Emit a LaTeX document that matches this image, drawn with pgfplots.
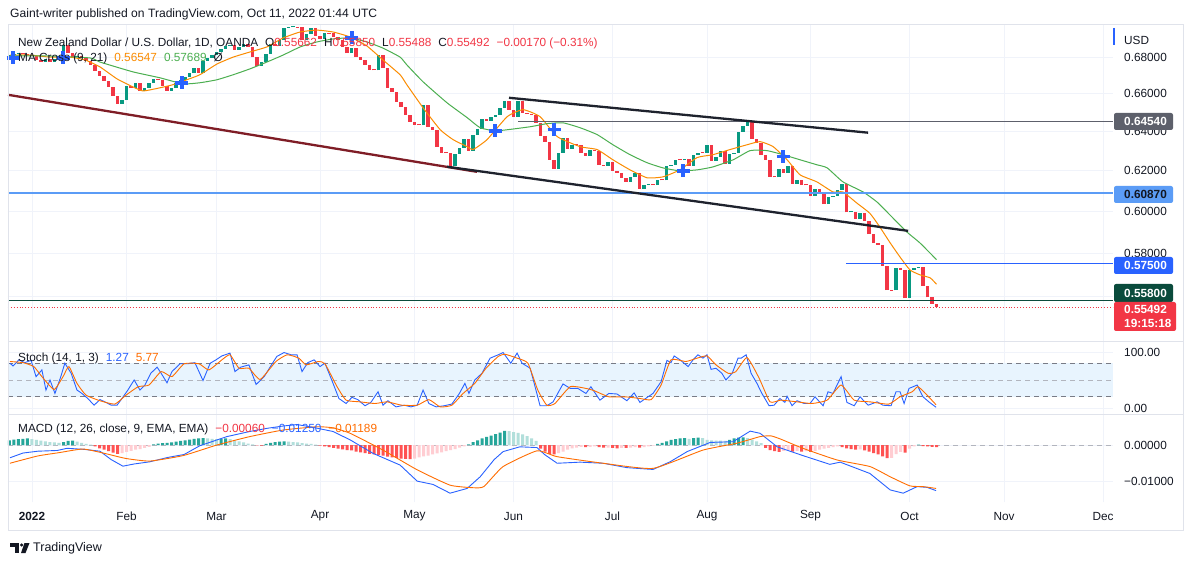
\documentclass[border=0pt]{standalone}
\usepackage{pgfplots}
\pgfplotsset{compat=1.18}
\usepackage{pgfplotstable}
\usepackage{fontspec}
\setmainfont{Liberation Sans}
\definecolor{tvgreen}{HTML}{089981}
\definecolor{tvred}{HTML}{F23645}
\definecolor{tvblue}{HTML}{2962FF}
\definecolor{tvorange}{HTML}{FF6D00}
\definecolor{maorange}{HTML}{FB8C00}
\definecolor{magreen}{HTML}{4CAF50}
\definecolor{gridc}{HTML}{F0F3FA}
\definecolor{borderc}{HTML}{E0E3EB}
\definecolor{txt}{HTML}{131722}
\definecolor{hteal}{HTML}{26A69A}
\definecolor{hlteal}{HTML}{B2DFDB}
\definecolor{hred}{HTML}{FF5252}
\definecolor{hpink}{HTML}{FFCDD2}
\definecolor{band}{HTML}{E8F4FE}
\definecolor{lineblue}{HTML}{5B9CF6}
\definecolor{greyline}{HTML}{5D606B}
\definecolor{dkgreen}{HTML}{0A4B3C}
\definecolor{maroon}{HTML}{7F1D26}
\definecolor{trend}{HTML}{1E222D}
\definecolor{dash1}{HTML}{787B86}
\definecolor{dash2}{HTML}{B2B5BE}
\newcommand\tvf{\fontsize{11.8}{14}\selectfont}

\pgfplotstableread{
i o c
-5 0.6800 0.6811
-4 0.6811 0.6817
-3 0.6817 0.6822
-2 0.6822 0.6817
-1 0.6817 0.6811
0 0.6811 0.6806
1 0.6806 0.6784
2 0.6784 0.6773
3 0.6773 0.6789
4 0.6789 0.6773
5 0.6773 0.6789
6 0.6789 0.6795
7 0.6795 0.6867
8 0.6867 0.6822
9 0.6822 0.6800
10 0.6800 0.6806
11 0.6806 0.6795
12 0.6795 0.6779
13 0.6779 0.6757
14 0.6757 0.6724
15 0.6724 0.6697
16 0.6697 0.6670
17 0.6670 0.6638
18 0.6638 0.6589
19 0.6589 0.6547
20 0.6547 0.6568
21 0.6568 0.6643
22 0.6643 0.6632
23 0.6632 0.6660
24 0.6660 0.6616
25 0.6616 0.6632
26 0.6632 0.6660
27 0.6660 0.6681
28 0.6681 0.6676
29 0.6676 0.6643
30 0.6643 0.6616
31 0.6616 0.6632
32 0.6632 0.6660
33 0.6660 0.6676
34 0.6676 0.6692
35 0.6692 0.6714
36 0.6714 0.6741
37 0.6741 0.6714
38 0.6714 0.6779
39 0.6779 0.6795
40 0.6795 0.6811
41 0.6811 0.6828
42 0.6828 0.6845
43 0.6845 0.6862
44 0.6862 0.6867
45 0.6867 0.6839
46 0.6839 0.6856
47 0.6856 0.6873
48 0.6873 0.6856
49 0.6856 0.6800
50 0.6800 0.6751
51 0.6751 0.6773
52 0.6773 0.6817
53 0.6817 0.6873
54 0.6873 0.6862
55 0.6862 0.6895
56 0.6895 0.6963
57 0.6963 0.6968
58 0.6968 0.6970
59 0.6970 0.6966
60 0.6966 0.6895
61 0.6895 0.6929
62 0.6929 0.6963
63 0.6963 0.6918
64 0.6918 0.6901
65 0.6901 0.6934
66 0.6934 0.6932
67 0.6932 0.6912
68 0.6912 0.6895
69 0.6895 0.6856
70 0.6856 0.6822
71 0.6822 0.6850
72 0.6850 0.6800
73 0.6800 0.6784
74 0.6784 0.6757
75 0.6757 0.6730
76 0.6730 0.6728
77 0.6728 0.6811
78 0.6811 0.6741
79 0.6741 0.6632
80 0.6632 0.6611
81 0.6611 0.6558
82 0.6558 0.6532
83 0.6532 0.6489
84 0.6489 0.6453
85 0.6453 0.6437
86 0.6437 0.6435
87 0.6435 0.6542
88 0.6542 0.6426
89 0.6426 0.6411
90 0.6411 0.6323
91 0.6323 0.6292
92 0.6292 0.6290
93 0.6290 0.6226
94 0.6226 0.6287
95 0.6287 0.6318
96 0.6318 0.6364
97 0.6364 0.6303
98 0.6303 0.6385
99 0.6385 0.6416
100 0.6416 0.6468
101 0.6468 0.6458
102 0.6458 0.6479
103 0.6479 0.6489
104 0.6489 0.6526
105 0.6526 0.6563
106 0.6563 0.6516
107 0.6516 0.6479
108 0.6479 0.6563
109 0.6563 0.6500
110 0.6500 0.6495
111 0.6495 0.6489
112 0.6489 0.6447
113 0.6447 0.6380
114 0.6380 0.6349
115 0.6349 0.6256
116 0.6256 0.6210
117 0.6210 0.6292
118 0.6292 0.6369
119 0.6369 0.6313
120 0.6313 0.6333
121 0.6333 0.6331
122 0.6331 0.6292
123 0.6292 0.6277
124 0.6277 0.6308
125 0.6308 0.6303
126 0.6303 0.6231
127 0.6231 0.6226
128 0.6226 0.6246
129 0.6246 0.6200
130 0.6200 0.6190
131 0.6190 0.6165
132 0.6165 0.6145
133 0.6145 0.6170
134 0.6170 0.6190
135 0.6190 0.6110
136 0.6110 0.6130
137 0.6130 0.6131
138 0.6131 0.6129
139 0.6129 0.6155
140 0.6155 0.6153
141 0.6153 0.6226
142 0.6226 0.6231
143 0.6231 0.6256
144 0.6256 0.6255
145 0.6255 0.6262
146 0.6262 0.6226
147 0.6226 0.6282
148 0.6282 0.6292
149 0.6292 0.6291
150 0.6291 0.6333
151 0.6333 0.6251
152 0.6251 0.6272
153 0.6272 0.6303
154 0.6303 0.6236
155 0.6236 0.6287
156 0.6287 0.6292
157 0.6292 0.6400
158 0.6400 0.6432
159 0.6432 0.6458
160 0.6458 0.6364
161 0.6364 0.6344
162 0.6344 0.6282
163 0.6282 0.6256
164 0.6256 0.6170
165 0.6170 0.6168
166 0.6168 0.6210
167 0.6210 0.6190
168 0.6190 0.6226
169 0.6226 0.6135
170 0.6135 0.6155
171 0.6155 0.6130
172 0.6130 0.6128
173 0.6128 0.6075
174 0.6075 0.6110
175 0.6110 0.6090
176 0.6090 0.6035
177 0.6035 0.6070
178 0.6070 0.6075
179 0.6075 0.6105
180 0.6105 0.6135
181 0.6135 0.5995
182 0.5995 0.5998
183 0.5998 0.5962
184 0.5962 0.5990
185 0.5990 0.5952
186 0.5952 0.5890
187 0.5890 0.5848
188 0.5848 0.5838
189 0.5838 0.5740
190 0.5740 0.5628
191 0.5628 0.5626
192 0.5626 0.5730
193 0.5730 0.5721
194 0.5721 0.5591
195 0.5591 0.5721
196 0.5721 0.5730
197 0.5730 0.5735
198 0.5735 0.5647
199 0.5647 0.5595
200 0.5595 0.55662
201 0.55662 0.55492
}\candles
\pgfplotstablecreatecol[create col/expr={min(\thisrow{o},\thisrow{c})}]{lo}\candles
\pgfplotstablecreatecol[create col/expr={max(ln(max(\thisrow{o},\thisrow{c}))-ln(min(\thisrow{o},\thisrow{c})),0.0007)}]{e}\candles
\pgfplotstablecreatecol[create col/expr={\thisrow{c}>=\thisrow{o}}]{up}\candles

\pgfplotstableread{
i h k
-5 0.0013 1
-4 0.0015 1
-3 0.0016 1
-2 0.0017 1
-1 0.0018 1
0 0.0016 2
1 0.0014 2
2 0.0012 2
3 0.0010 2
4 0.0008 2
5 0.0007 2
6 0.0006 2
7 0.0008 1
8 0.0011 1
9 0.0012 1
10 0.0009 2
11 0.0006 2
12 0.0003 2
13 0.0001 2
14 -0.0004 3
15 -0.0009 3
16 -0.0013 3
17 -0.0017 3
18 -0.0021 3
19 -0.0024 3
20 -0.0022 4
21 -0.0019 4
22 -0.0016 4
23 -0.0013 4
24 -0.0011 4
25 -0.0008 4
26 -0.0005 4
27 0.0002 1
28 0.0004 1
29 0.0005 1
30 0.0006 1
31 0.0007 1
32 0.0009 1
33 0.0011 1
34 0.0013 1
35 0.0015 1
36 0.0017 1
37 0.0018 1
38 0.0019 1
39 0.0018 2
40 0.0017 2
41 0.0016 2
42 0.0017 1
43 0.0018 1
44 0.0016 2
45 0.0013 2
46 0.0010 2
47 0.0007 2
48 0.0004 2
49 0.0002 2
50 -0.0001 3
51 -0.0002 3
52 0.0003 1
53 0.0006 1
54 0.0008 1
55 0.0009 1
56 0.0010 1
57 0.0009 2
58 0.0008 2
59 0.0007 2
60 0.0005 2
61 0.0004 2
62 0.0003 2
63 0.0001 2
64 -0.0002 3
65 -0.0004 3
66 -0.0006 3
67 -0.0008 3
68 -0.0010 3
69 -0.0012 3
70 -0.0014 3
71 -0.0015 3
72 -0.0018 3
73 -0.0020 3
74 -0.0022 3
75 -0.0024 3
76 -0.0026 3
77 -0.0027 3
78 -0.0029 3
79 -0.0032 3
80 -0.0034 3
81 -0.0035 3
82 -0.0037 3
83 -0.0038 3
84 -0.0039 3
85 -0.0037 4
86 -0.0034 4
87 -0.0031 4
88 -0.0029 4
89 -0.0026 4
90 -0.0023 4
91 -0.0020 4
92 -0.0017 4
93 -0.0014 4
94 -0.0011 4
95 -0.0007 4
96 -0.0004 4
97 0.0002 1
98 0.0008 1
99 0.0013 1
100 0.0018 1
101 0.0022 1
102 0.0026 1
103 0.0030 1
104 0.0034 1
105 0.0039 1
106 0.0038 2
107 0.0035 2
108 0.0033 2
109 0.0029 2
110 0.0024 2
111 0.0018 2
112 0.0011 2
113 -0.0010 3
114 -0.0018 3
115 -0.0024 3
116 -0.0026 3
117 -0.0022 4
118 -0.0018 4
119 -0.0013 4
120 -0.0009 4
121 -0.0007 4
122 -0.0005 4
123 -0.0006 3
124 -0.0005 4
125 -0.0004 4
126 -0.0006 3
127 -0.0007 3
128 -0.0007 4
129 -0.0008 3
130 -0.0009 3
131 -0.0008 4
132 -0.0008 3
133 -0.0007 4
134 -0.0006 4
135 -0.0007 3
136 -0.0006 4
137 -0.0004 4
138 -0.0002 4
139 0.0003 1
140 0.0006 1
141 0.0010 1
142 0.0014 1
143 0.0016 1
144 0.0018 1
145 0.0019 1
146 0.0017 2
147 0.0019 1
148 0.0020 1
149 0.0019 2
150 0.0014 2
151 0.0013 2
152 0.0012 2
153 0.0012 2
154 0.0011 2
155 0.0014 1
156 0.0018 1
157 0.0020 1
158 0.0021 1
159 0.0019 2
160 0.0015 2
161 0.0010 2
162 0.0005 2
163 -0.0008 3
164 -0.0014 3
165 -0.0017 3
166 -0.0019 3
167 -0.0016 4
168 -0.0014 4
169 -0.0018 3
170 -0.0016 4
171 -0.0018 3
172 -0.0017 4
173 -0.0019 3
174 -0.0016 4
175 -0.0013 4
176 -0.0010 4
177 -0.0008 4
178 -0.0006 4
179 -0.0004 4
180 -0.0006 3
181 -0.0009 3
182 -0.0011 3
183 -0.0013 3
184 -0.0012 4
185 -0.0015 3
186 -0.0018 3
187 -0.0022 3
188 -0.0026 3
189 -0.0031 3
190 -0.0036 3
191 -0.0035 4
192 -0.0025 4
193 -0.0019 4
194 -0.0021 3
195 -0.0010 4
196 -0.0004 4
197 0.0001 1
198 -0.0003 3
199 -0.0004 3
200 -0.0005 3
201 -0.0006 3
}\hist

\pgfplotsset{
  tvpane/.style={scale only axis, width=1105pt,
    xmin=-5.3333, xmax=240.2222,
    axis line style={draw=none}, major tick length=0pt, minor tick length=0pt,
    tick style={draw=none}, scaled y ticks=false, scaled x ticks=false,
    xtick={0,21,41,64,85,107,129,150,173,195,216,238},
    xmajorgrids, ymajorgrids, grid style={draw=gridc, line width=0.8pt},
    yticklabel pos=right,
    yticklabel style={anchor=west, inner sep=0pt, xshift=11pt, font=\tvf, text=txt},
    xticklabel style={font=\tvf, text=txt},
  }
}

\begin{document}
\begin{tikzpicture}[x=1pt,y=1pt,font=\tvf]
\fill[white] (0,0) rectangle (1194,565);

% ---------------- price pane (logarithmic price scale) ----------------
\begin{axis}[tvpane, at={(8pt,223pt)}, anchor=south west, height=317pt,
  y filter/.expression={ln(y)},
  ymin=-0.61703, ymax=-0.35967,
  ytick={-0.579818,-0.544727,-0.510826,-0.478036,-0.446287,-0.415515,-0.385662},
  yticklabels={0.56000,0.58000,0.60000,0.62000,0.64000,0.66000,0.68000},
  xticklabels={}]
% candles
\addplot[draw=none, mark=none, restrict expr to domain={\thisrow{up}}{0.5:1.5},
  error bars/.cd, y dir=plus, y explicit, error mark=none,
  error bar style={draw=tvgreen, line width=3.4pt}]
  table[x=i, y=lo, y error=e]{\candles};
\addplot[draw=none, mark=none, restrict expr to domain={\thisrow{up}}{-0.5:0.5},
  error bars/.cd, y dir=plus, y explicit, error mark=none,
  error bar style={draw=tvred, line width=3.4pt}]
  table[x=i, y=lo, y error=e]{\candles};
% moving averages
\addplot[maorange, line width=1pt, mark=none, smooth, tension=0.3] coordinates {
(-4.9,0.6811) (-0.4,0.6811) (4,0.6800) (8.4,0.6800) (11.8,0.6784) (15.1,0.6746) (18.9,0.6681) (22.4,0.6638) (24.7,0.6616) (28.4,0.6632) (31.3,0.6649) (34.4,0.6676) (37.3,0.6703) (41.1,0.6762) (44.7,0.6800) (48.4,0.6828) (52.2,0.6856) (55.8,0.6907) (59.6,0.6940) (63.3,0.6951) (66.9,0.6940) (70.7,0.6912) (74.4,0.6862) (78,0.6784) (81.8,0.6703) (83.3,0.6649) (86.9,0.6526) (90.7,0.6411) (93.6,0.6359) (96.7,0.6323) (98,0.6308) (101.1,0.6359) (105.6,0.6479) (109.1,0.6516) (112.9,0.6479) (116.7,0.6375) (121.8,0.6323) (125.6,0.6308) (129.1,0.6256) (132.9,0.6205) (136.7,0.6165) (140.2,0.6170) (144,0.6205) (147.8,0.6267) (151.3,0.6282) (155.1,0.6308) (158.9,0.6333) (161.8,0.6349) (164.7,0.6323) (167.8,0.6256) (170.7,0.6180) (174.4,0.6145) (178,0.6095) (180.2,0.6095) (183.3,0.6040) (186.2,0.5990) (188.4,0.5924) (190.7,0.5848) (192.9,0.5781) (195.1,0.5721) (197.3,0.5698) (199.6,0.5684) (201,0.56547)};
\addplot[magreen, line width=1pt, mark=none, smooth, tension=0.3] coordinates {
(-4.9,0.6806) (4,0.6806) (12.9,0.6795) (15.1,0.6773) (22.4,0.6719) (28.4,0.6687) (33.6,0.6654) (37.3,0.6660) (41.1,0.6676) (44.7,0.6703) (48.4,0.6735) (52.2,0.6773) (55.8,0.6811) (59.6,0.6856) (63.3,0.6884) (66.9,0.6901) (70.7,0.6907) (74.4,0.6884) (78,0.6850) (81.8,0.6800) (83.3,0.6757) (86.9,0.6665) (92.2,0.6553) (96.7,0.6474) (99.6,0.6421) (103.3,0.6405) (110.7,0.6426) (114.4,0.6442) (118,0.6447) (121.8,0.6421) (125.6,0.6385) (129.1,0.6333) (132.9,0.6282) (136.7,0.6241) (140.2,0.6215) (144,0.6200) (147.8,0.6205) (151.3,0.6220) (155.8,0.6256) (159.6,0.6303) (163.3,0.6303) (166.9,0.6282) (170.7,0.6256) (174.4,0.6231) (176.7,0.6215) (180.2,0.6145) (184.7,0.6095) (187.8,0.6045) (190.7,0.5981) (194.4,0.5900) (197.3,0.5848) (201,0.57689)};
% horizontal levels
\addplot[greyline, line width=1pt] coordinates {(108,0.6454) (240.2222,0.6454)};
\addplot[lineblue, line width=2pt] coordinates {(-5.3333,0.6087) (240.2222,0.6087)};
\addplot[tvblue, line width=1.2pt] coordinates {(180.9,0.5750) (240.2222,0.5750)};
\addplot[dkgreen, line width=1.2pt] coordinates {(-5.3333,0.5580) (240.2222,0.5580)};
\addplot[tvred, line width=0.9pt, dotted] coordinates {(-5.3333,0.55492) (240.2222,0.55492)};
% trend lines
\addplot[maroon, line width=2.3pt] coordinates {(-5.3333,0.6595) (98.9,0.6195)};
\addplot[trend, line width=2.3pt] coordinates {(92.2,0.6221) (194.7,0.5905)};
\addplot[trend, line width=2.3pt] coordinates {(106,0.6579) (185.8,0.6395)};
% MA cross markers
\addplot[only marks, mark=+, mark size=6.5pt, mark options={draw=tvblue, line width=3.6pt}] coordinates {
(-4.2,0.6795) (6.9,0.6795) (33.3,0.6660) (71.1,0.6907) (102.9,0.6405) (116,0.6411) (144.7,0.6200) (166.9,0.6272)};
\end{axis}

% ---------------- stochastic pane ----------------
\begin{axis}[tvpane, at={(8pt,150pt)}, anchor=south west, height=73pt,
  ymin=-12.5, ymax=117.86, ytick={0,100}, yticklabels={0.00,100.00}, xticklabels={}]
\addplot[draw=none, fill=band] coordinates {(-5.3333,20) (240.2222,20) (240.2222,80) (-5.3333,80)} -- cycle;
\addplot[dash1, line width=0.8pt, dash pattern=on 5pt off 4pt] coordinates {(-5.3333,80) (240.2222,80)};
\addplot[dash2, line width=0.8pt, dash pattern=on 5pt off 4pt] coordinates {(-5.3333,50) (240.2222,50)};
\addplot[dash1, line width=0.8pt, dash pattern=on 5pt off 4pt] coordinates {(-5.3333,20) (240.2222,20)};
\addplot[tvblue, line width=0.9pt, mark=none] coordinates {
(-4.9,80) (-4.2,75) (-2.9,86) (-1.6,81) (-0.2,85) (0.9,56) (2.2,68) (3.1,32) (4,50) (5.1,26) (6.4,56) (7.3,80) (8.7,62) (10,32) (11.1,26) (12.4,17) (13.8,5) (15.1,15) (16.2,11) (17.6,5) (18.9,5) (20,17) (21.3,32) (22.7,50) (24,32) (25.1,41) (26.4,62) (27.8,73) (28.7,62) (30,45) (31.1,65) (32.9,79) (34.7,79) (36.2,81) (38,49) (39.6,80) (40.9,86) (42.2,93) (44,98) (45.1,65) (46.4,73) (48.2,77) (49.8,42) (51.6,56) (52.9,73) (54.4,92) (56,99) (57.6,95) (58.9,95) (60,65) (61.3,81) (62.7,86) (64,74) (65.1,80) (66.9,44) (68.2,17) (69.8,8) (71.1,19) (72.4,15) (74,4) (75.3,10) (76.9,29) (78,5) (79.1,13) (80.9,2) (82.7,5) (84.2,2) (85.6,5) (86.9,32) (88.2,8) (89.8,2) (91.6,4) (93.3,7) (94.9,25) (96.2,44) (97.1,26) (98.4,50) (100,62) (101.8,89) (103.6,95) (104.7,99) (106.4,80) (107.8,98) (108.9,80) (110.7,71) (111.6,44) (112.9,4) (114.4,4) (115.8,11) (118,43) (119.6,35) (121.3,35) (123.1,26) (124.2,38) (126.2,14) (128.2,26) (130,25) (132.2,13) (133.8,27) (135.1,10) (136.9,20) (138,26) (139.8,47) (141.1,85) (142,81) (142.7,93) (144,86) (145.8,74) (146.9,86) (148,95) (149.1,89) (150,95) (150.9,69) (152,71) (153.3,62) (154.2,50) (155.6,62) (156.9,89) (157.6,89) (158.7,95) (159.8,62) (161.1,44) (162.2,26) (163.8,4) (164.9,5) (166.2,17) (167.3,10) (167.8,21) (168.9,4) (170,13) (171.6,8) (172.9,8) (174,20) (175.8,4) (176.9,29) (178,26) (179.8,56) (181.1,10) (182.7,4) (184,20) (185.8,5) (187.8,11) (189.1,5) (190.9,4) (192,29) (192.9,29) (193.8,8) (194.9,35) (196.7,41) (198,20) (199.3,11) (200.9,1.27)};
\addplot[tvorange, line width=0.9pt, mark=none, smooth, tension=0.3] coordinates {
(-4.9,83) (-2,81) (0.4,74) (2.2,56) (4.9,33) (6.9,56) (8.2,74) (10,44) (12,23) (15.1,13) (18.4,7) (20.9,23) (23.6,38) (26,41) (28.7,65) (31.1,56) (33.8,79) (37.1,79) (39.3,68) (42.2,86) (44,95) (46,71) (48.2,71) (50.7,51) (54.2,83) (56.7,95) (59.3,89) (60.9,77) (63.6,83) (65.1,79) (67.8,38) (69.8,14) (72.9,11) (76.2,8) (78.9,11) (82.2,5) (85.6,5) (88.2,15) (90.7,2) (93.3,5) (95.8,26) (98.4,44) (100.9,71) (103.6,92) (105.1,96) (107.8,89) (110.2,80) (112.4,32) (114.4,5) (116.2,8) (119.6,38) (123.1,35) (124.9,31) (128.2,20) (131.8,20) (135.1,17) (137.6,15) (139.8,41) (142,86) (145.3,83) (147.8,89) (150,93) (152,77) (154.7,62) (156.4,65) (158.9,90) (161.6,53) (164,11) (166.4,14) (170,11) (173.3,8) (176.7,14) (179.8,41) (182.7,14) (186.2,11) (190.4,7) (192.9,20) (195.6,29) (196.9,38) (198.9,23) (200.9,5.77)};
\end{axis}

% ---------------- MACD pane ----------------
\begin{axis}[tvpane, at={(8pt,63pt)}, anchor=south west, height=87pt,
  ymin=-0.015616, ymax=0.008219, ytick={-0.01,0}, yticklabels={−0.01000,0.00000},
  xticklabels={\textbf{2022},Feb,Mar,Apr,May,Jun,Jul,Aug,Sep,Oct,Nov,Dec},
  xticklabel style={anchor=center, yshift=-14pt}]
\addplot[dash2, line width=0.8pt, dash pattern=on 5pt off 4pt] coordinates {(-5.3333,0) (240.2222,0)};
\addplot[ybar, bar width=3pt, bar shift=0pt, draw=none, fill=hteal, restrict expr to domain={\thisrow{k}}{0.5:1.5}] table[x=i,y=h]{\hist};
\addplot[ybar, bar width=3pt, bar shift=0pt, draw=none, fill=hlteal, restrict expr to domain={\thisrow{k}}{1.5:2.5}] table[x=i,y=h]{\hist};
\addplot[ybar, bar width=3pt, bar shift=0pt, draw=none, fill=hred, restrict expr to domain={\thisrow{k}}{2.5:3.5}] table[x=i,y=h]{\hist};
\addplot[ybar, bar width=3pt, bar shift=0pt, draw=none, fill=hpink, restrict expr to domain={\thisrow{k}}{3.5:4.5}] table[x=i,y=h]{\hist};
\addplot[tvblue, line width=0.9pt, mark=none] coordinates {
(-4.9,-0.0035) (-2,-0.0022) (1.3,-0.0017) (5.6,-0.0015) (7.8,-0.0009) (11.6,-0.0012) (15.1,-0.0017) (17.6,-0.0040) (20.2,-0.0058) (22.7,-0.0052) (26.2,-0.0046) (30.2,-0.0034) (33.8,-0.0026) (37.3,-0.0002) (43.3,0.0023) (48.4,0.0037) (52.4,0.0046) (55.8,0.0052) (58.9,0.0056) (61.8,0.0050) (66.9,0.0037) (70.7,0.0014) (75.8,-0.0023) (81.8,-0.0055) (85.6,-0.0099) (89.1,-0.0108) (92.9,-0.0132) (96.7,-0.0119) (99.6,-0.0087) (102.7,-0.0040) (104.7,-0.0018) (108.4,-0.0005) (112.2,-0.0007) (114,-0.0027) (116.7,-0.0050) (121.8,-0.0047) (126.9,-0.0050) (132.2,-0.0062) (138,-0.0067) (141.8,-0.0046) (145.6,-0.0018) (150.7,0.0007) (155.8,0.0009) (159.6,0.0038) (161.8,0.0032) (165.6,-0.0005) (171.3,-0.0029) (177.3,-0.0053) (179.6,-0.0047) (186.2,-0.0078) (190.7,-0.0123) (193.6,-0.0132) (196.7,-0.0114) (198.9,-0.0116) (200.9,-0.0125)};
\addplot[tvorange, line width=0.9pt, mark=none, smooth, tension=0.3] coordinates {
(-4.9,-0.0050) (1.3,-0.0030) (6,-0.0021) (11.3,-0.0011) (15.8,-0.0022) (20.9,-0.0037) (26.2,-0.0044) (33.6,-0.0029) (41.1,0.0000) (48.4,0.0023) (55.8,0.0041) (63.3,0.0050) (66.9,0.0047) (70.7,0.0032) (78,-0.0014) (85.6,-0.0068) (92.9,-0.0110) (98,-0.0117) (100.4,-0.0114) (104.7,-0.0059) (112.2,-0.0016) (116.7,-0.0032) (126.9,-0.0050) (138,-0.0064) (149.1,-0.0014) (156.7,0.0005) (161.8,0.0023) (164.2,0.0025) (166.4,0.0016) (171.3,-0.0009) (178.9,-0.0041) (186.2,-0.0059) (190.7,-0.0087) (195.1,-0.0112) (198,-0.0114) (200.9,-0.0119)};
\end{axis}

% ---------------- frame and separators ----------------
\draw[borderc, line width=1pt] (8,35) rectangle (1183,540);
\draw[borderc, line width=1pt] (8,223) -- (1183,223);
\draw[borderc, line width=1pt] (8,150) -- (1183,150);
\draw[tvblue, line width=1.2pt] (1114,537) -- (1114,520);
\node[anchor=west, inner sep=0pt, text=txt] at (1124,525) {USD};

% ---------------- price labels on the right ----------------
\fill[greyline, rounded corners=2pt] (1114,435) rectangle (1173,452);
\node[anchor=west, inner sep=0pt, text=white] at (1124,443.5) {\bfseries 0.64540};
\fill[lineblue, rounded corners=2pt] (1114,362) rectangle (1173,379);
\node[anchor=west, inner sep=0pt, text=txt] at (1124,370.5) {\bfseries 0.60870};
\fill[tvblue, rounded corners=2pt] (1114,291) rectangle (1173,308);
\node[anchor=west, inner sep=0pt, text=white] at (1124,299.5) {\bfseries 0.57500};
\fill[dkgreen, rounded corners=2pt] (1114,263) rectangle (1173,281);
\node[anchor=west, inner sep=0pt, text=white] at (1124,272) {\bfseries 0.55800};
\fill[tvred, rounded corners=2pt] (1114,234) rectangle (1176,263);
\node[anchor=west, inner sep=0pt, text=white] at (1124,256) {\bfseries 0.55492};
\node[anchor=west, inner sep=0pt, text=white] at (1124,242) {\bfseries 19:15:18};

% ---------------- header and legends ----------------
\node[anchor=west, inner sep=0pt, text=txt] at (10,551) {\fontsize{12.1}{14}\selectfont Gaint-writer published on TradingView.com, Oct 11, 2022 01:44 UTC};
\node[anchor=west, inner sep=0pt, text=txt] at (18,522) {New Zealand Dollar / U.S. Dollar, 1D, OANDA\hspace{7pt}O\textcolor{tvred}{0.55662}\hspace{7pt}H\textcolor{tvred}{0.55850}\hspace{7pt}L\textcolor{tvred}{0.55488}\hspace{7pt}C\textcolor{tvred}{0.55492}\hspace{7pt}\textcolor{tvred}{−0.00170 (−0.31\%)}};
\node[anchor=west, inner sep=0pt, text=txt] at (18,507) {MA Cross (9, 21)\hspace{7pt}\textcolor{maorange}{0.56547}\hspace{7pt}\textcolor{magreen}{0.57689}\hspace{7pt}Ø};
\node[anchor=west, inner sep=0pt, text=txt] at (18,207) {Stoch (14, 1, 3)\hspace{7pt}\textcolor{tvblue}{1.27}\hspace{7pt}\textcolor{tvorange}{5.77}};
\node[anchor=west, inner sep=0pt, text=txt] at (18,136) {MACD (12, 26, close, 9, EMA, EMA)\hspace{7pt}\textcolor{tvred}{−0.00060}\hspace{7pt}\textcolor{tvblue}{−0.01250}\hspace{7pt}\textcolor{tvorange}{−0.01189}};

% ---------------- TradingView logo ----------------
\fill[txt] (10,22) rectangle (19,18.5);
\fill[txt] (14.5,18.5) rectangle (18.5,12);
\fill[txt] (21.6,20) circle (1.7);
\fill[txt] (24.5,22) -- (29.5,22) -- (25.5,12) -- (21,12) -- cycle;
\node[anchor=west, inner sep=0pt, text=txt] at (33,17) {\fontsize{12.5}{14}\selectfont TradingView};

\pgfresetboundingbox
\path[use as bounding box] (0,0) rectangle (1194,565);
\end{tikzpicture}
\end{document}
